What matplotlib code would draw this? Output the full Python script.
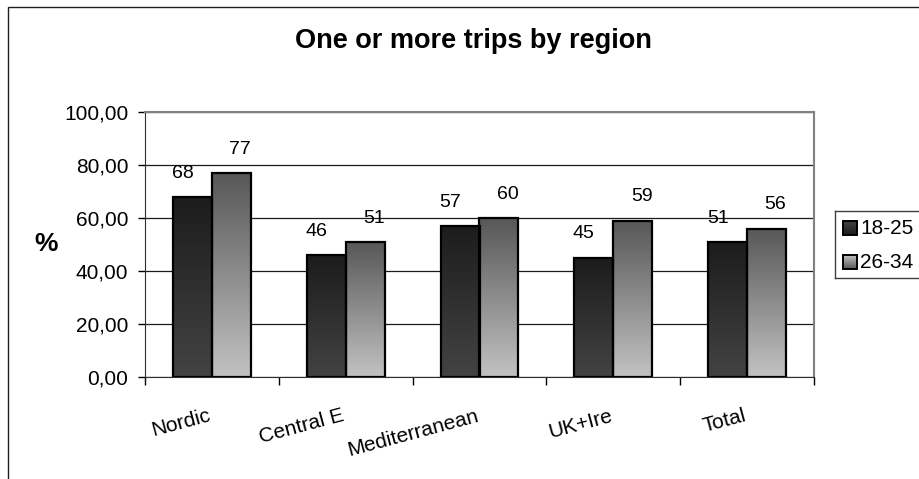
import numpy as np
import matplotlib
matplotlib.use("Agg")
import matplotlib.pyplot as plt
from matplotlib.colors import LinearSegmentedColormap
from matplotlib.patches import Rectangle
from matplotlib.ticker import FuncFormatter
from matplotlib.transforms import ScaledTranslation

plt.rcParams["font.family"] = ["Liberation Sans", "DejaVu Sans"]

regions = ["Nordic", "Central E", "Mediterranean", "UK+Ire", "Total"]
series_names = ["18-25", "26-34"]
age_18_25 = [68, 46, 57, 45, 51]
age_26_34 = [77, 51, 60, 59, 56]
y_ticks = [0, 20, 40, 60, 80, 100]

# top colour -> bottom colour for each series
dark_cmap = LinearSegmentedColormap.from_list("dark", ["#434343", "#1c1c1c"])
light_cmap = LinearSegmentedColormap.from_list("light", ["#c2c2c2", "#575757"])
grad = np.linspace(0, 1, 256).reshape(-1, 1)

fig = plt.figure(figsize=(9.2, 4.79), dpi=100)
W, H = 920, 479

# outer chart frame
fig.patches.append(Rectangle((8 / W, -0.05), 1.0, 1 - 7 / H + 0.05,
                             transform=fig.transFigure, fill=False,
                             edgecolor="#202020", linewidth=1.0))

ax = fig.add_axes([145 / W, 102 / H, 669 / W, 265 / H])
x = np.arange(len(regions))
bw = 0.29


def gradient_bars(xpos, vals, cmap):
    bars = ax.bar(xpos, vals, width=bw, align="edge", facecolor="none",
                  edgecolor="black", linewidth=1.6, zorder=4)
    for b in bars:
        x0, w, h = b.get_x(), b.get_width(), b.get_height()
        ax.imshow(grad, cmap=cmap, extent=(x0, x0 + w, 0, h), origin="lower",
                  aspect="auto", interpolation="bicubic", zorder=3)
    return bars


bars1 = gradient_bars(x - bw, age_18_25, dark_cmap)
bars2 = gradient_bars(x, age_26_34, light_cmap)

# value labels above each bar
for bars, dx in ((bars1, -10), (bars2, 9)):
    for b in bars:
        ax.annotate(f"{b.get_height():.0f}",
                    (b.get_x() + b.get_width() / 2, b.get_height()),
                    xytext=(dx * 0.72, 11), textcoords="offset points",
                    ha="center", va="bottom", fontsize=14)

ax.set_xlim(-0.5, len(regions) - 0.5)
ax.set_ylim(0, 100)
ax.set_yticks(y_ticks)
ax.yaxis.set_major_formatter(FuncFormatter(lambda v, p: f"{v:.2f}".replace(".", ",")))
ax.tick_params(axis="y", length=5, width=1, pad=7, labelsize=15)
ax.yaxis.grid(True, color="#1a1a1a", linewidth=0.9, zorder=1)
ax.set_axisbelow(True)

ax.set_xticks(x, regions)
ax.set_xticks(np.arange(len(regions) + 1) - 0.5, minor=True)
ax.tick_params(axis="x", which="major", length=0, pad=21, labelsize=15)
ax.tick_params(axis="x", which="minor", length=6, width=1)
shift = ScaledTranslation(-4 / 100, 0, fig.dpi_scale_trans)
for lbl in ax.get_xticklabels():
    lbl.set_rotation(15)
    lbl.set_ha("right")
    lbl.set_va("top")
    lbl.set_rotation_mode("anchor")
    lbl.set_transform(lbl.get_transform() + shift)

for side in ("top", "right"):
    ax.spines[side].set_color("#808080")
    ax.spines[side].set_linewidth(1.5)
ax.spines["left"].set_color("#303030")
ax.spines["bottom"].set_color("#303030")

fig.text(473 / W, 1 - 41 / H, "One or more trips by region", ha="center",
         va="center", fontsize=19.5, fontweight="bold")
fig.text(46 / W, 1 - 244 / H, "%", ha="center", va="center", fontsize=19,
         fontweight="bold")

# hand-built legend box with gradient swatches
lax = fig.add_axes([835 / W, 201 / H, 95 / W, 67 / H])
lax.set_xlim(0, 95)
lax.set_ylim(67, 0)
lax.set_xticks([])
lax.set_yticks([])
for s in lax.spines.values():
    s.set_color("#404040")
    s.set_linewidth(1.0)
for (name, cmap), yc in zip(zip(series_names, (dark_cmap, light_cmap)), (17, 51)):
    lax.imshow(grad, cmap=cmap, extent=(8, 22, yc + 7, yc - 7), origin="upper",
               aspect="auto", interpolation="bicubic")
    lax.add_patch(Rectangle((8, yc - 7), 14, 14, fill=False,
                            edgecolor="black", linewidth=1.4))
    lax.text(25, yc, name, va="center", ha="left", fontsize=15)
lax.set_xlim(0, 95)
lax.set_ylim(67, 0)

fig.savefig("out.png", dpi=100)
